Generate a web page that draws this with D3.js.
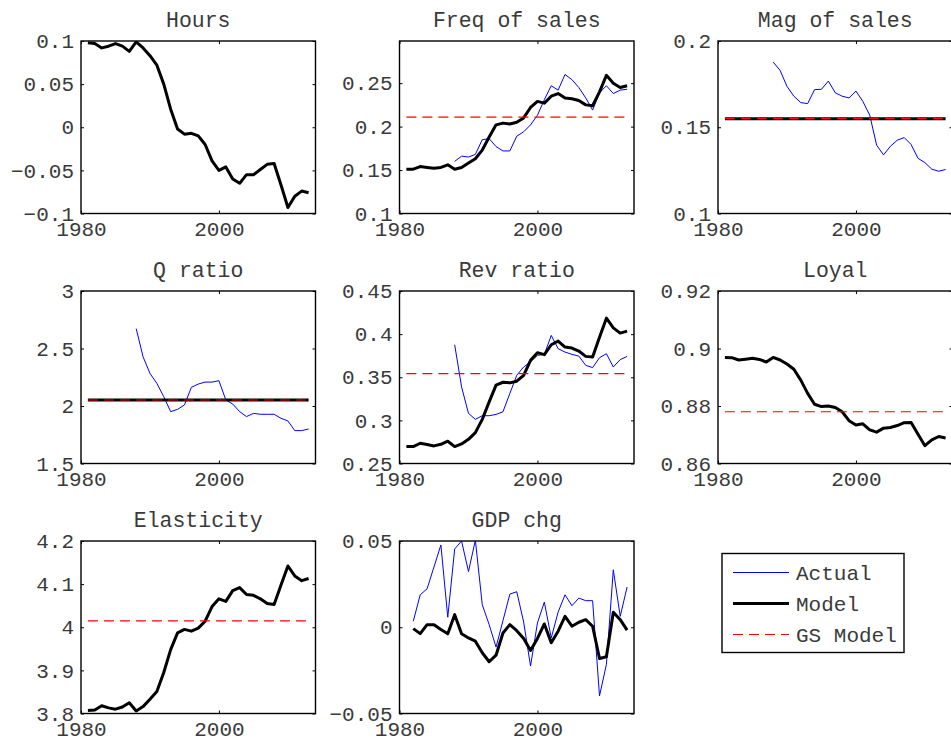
<!DOCTYPE html>
<html><head><meta charset="utf-8">
<script src="https://cdn.jsdelivr.net/npm/d3@7/dist/d3.min.js"></script>
<style>
html,body{margin:0;padding:0;background:#fff;}
svg text{font-family:"Liberation Mono","Courier New",monospace;}
</style></head><body>
<svg id="chart" width="951" height="749"></svg>
<script>
// ---------------- DATA ----------------
const years = [1981,1982,1983,1984,1985,1986,1987,1988,1989,1990,1991,1992,1993,1994,1995,1996,1997,1998,1999,2000,2001,2002,2003,2004,2005,2006,2007,2008,2009,2010,2011,2012,2013];
const xTicks = [1980, 2000];

const hoursModel = [0.098,0.097,0.092,0.094,0.097,0.094,0.088,0.099,0.092,0.083,0.072,0.050,0.021,-0.002,-0.008,-0.007,-0.010,-0.020,-0.039,-0.050,-0.046,-0.060,-0.065,-0.055,-0.055,-0.049,-0.043,-0.042,-0.067,-0.093,-0.080,-0.074,-0.076];

const freqModel = [0.151,0.151,0.154,0.153,0.152,0.153,0.156,0.151,0.153,0.158,0.163,0.173,0.188,0.202,0.204,0.203,0.205,0.210,0.222,0.229,0.227,0.235,0.238,0.233,0.232,0.230,0.225,0.224,0.240,0.259,0.250,0.245,0.247];
const freqActual = [null,null,null,null,null,null,null,0.160,0.166,0.165,0.168,0.185,0.186,0.177,0.172,0.172,0.189,0.194,0.202,0.213,0.231,0.247,0.242,0.260,0.254,0.245,0.233,0.219,0.239,0.247,0.238,0.242,0.243];
const freqGS = 0.211;

const magActual = [null,null,null,null,null,null,null,0.1878,0.183,0.1737,0.168,0.1643,0.1637,0.1718,0.172,0.1768,0.170,0.168,0.167,0.171,0.165,0.157,0.1396,0.134,0.139,0.1425,0.144,0.140,0.132,0.1295,0.1257,0.1245,0.1255];
const magModel = 0.155;
const magGS = 0.155;

const qActual = [null,null,null,null,null,null,null,2.673,2.428,2.283,2.197,2.081,1.951,1.971,2.009,2.162,2.191,2.208,2.208,2.22,2.052,2.017,1.951,1.908,1.936,1.928,1.928,1.928,1.893,1.870,1.786,1.786,1.80];
const qModel = 2.052;
const qGS = 2.052;

const revModel = [0.2696,0.2696,0.2735,0.272,0.2704,0.2723,0.2758,0.2696,0.2727,0.278,0.2858,0.3012,0.3215,0.3408,0.3442,0.3435,0.3454,0.3523,0.3696,0.3785,0.3762,0.3877,0.3919,0.385,0.3838,0.3804,0.3742,0.3735,0.3965,0.4185,0.4073,0.4012,0.4035];
const revActual = [null,null,null,null,null,null,null,0.3877,0.3388,0.3081,0.3012,0.3054,0.3054,0.3069,0.31,0.3312,0.3523,0.3619,0.3677,0.3754,0.3765,0.3985,0.3831,0.3792,0.3765,0.3746,0.3638,0.3612,0.3727,0.3773,0.3619,0.3704,0.3742];
const revGS = 0.3542;

const loyalModel = [0.8969,0.8968,0.896,0.8963,0.8966,0.8962,0.8953,0.8969,0.896,0.8946,0.8928,0.889,0.8844,0.8806,0.8798,0.88,0.8795,0.878,0.8749,0.8734,0.8738,0.8717,0.8709,0.8723,0.8725,0.8732,0.8742,0.8743,0.8702,0.8662,0.8682,0.8694,0.8689];
const loyalGS = 0.878;

const elasModel = [3.807,3.808,3.818,3.813,3.81,3.815,3.825,3.806,3.816,3.833,3.851,3.895,3.948,3.987,3.995,3.991,3.998,4.014,4.048,4.066,4.06,4.085,4.092,4.076,4.074,4.066,4.055,4.053,4.098,4.142,4.119,4.108,4.113];
const elasGS = 4.0146;

const gdpActual = [null,0.0035,0.0188,0.0223,0.035,0.0477,0.0058,0.0454,0.0500,0.0323,0.0505,0.0131,0.0015,-0.0115,0.0038,0.0192,0.0206,0.003,-0.0225,0.0025,0.0146,-0.0062,0.0088,0.0188,0.0125,0.0169,0.0154,0.0154,-0.0398,-0.0215,0.0333,0.0063,0.0233];
const gdpModel = [null,-0.0008,-0.0037,0.0015,0.0015,-0.0013,-0.0038,0.0073,-0.0038,-0.0062,-0.0081,-0.0148,-0.02,-0.0162,-0.0033,0.0015,-0.002,-0.0065,-0.0135,-0.0065,0.0019,-0.009,-0.0023,0.0063,0.0006,0.0029,0.0044,0.0006,-0.0181,-0.0171,0.0087,0.0044,-0.0017];

const titles = ["Hours","Freq of sales","Mag of sales","Q ratio","Rev ratio","Loyal","Elasticity","GDP chg"];
const ylims = [[-0.1,0.1],[0.1,0.2985],[0.1,0.2],[1.5,3],[0.25,0.45],[0.86,0.92],[3.8,4.2],[-0.05,0.05]];
const yTicks = [[-0.1,-0.05,0,0.05,0.1],[0.1,0.15,0.2,0.25],[0.1,0.15,0.2],[1.5,2,2.5,3],[0.25,0.3,0.35,0.4,0.45],[0.86,0.88,0.9,0.92],[3.8,3.9,4,4.1,4.2],[-0.05,0,0.05]];
const legendLabels = ["Actual","Model","GS Model"];

// panel table built from the arrays above
const panels = [
  {actual:null, model:hoursModel, modelLevel:null, gs:null},
  {actual:freqActual, model:freqModel, modelLevel:null, gs:freqGS},
  {actual:magActual, model:null, modelLevel:magModel, gs:magGS},
  {actual:qActual, model:null, modelLevel:qModel, gs:qGS},
  {actual:revActual, model:revModel, modelLevel:null, gs:revGS},
  {actual:null, model:loyalModel, modelLevel:null, gs:loyalGS},
  {actual:null, model:elasModel, modelLevel:null, gs:elasGS},
  {actual:gdpActual, model:gdpModel, modelLevel:null, gs:null}
].map((p,i)=>Object.assign(p,{title:titles[i], ylim:ylims[i], yt:yTicks[i]}));

// ---------------- STYLE / LAYOUT ----------------
const colLeft = [81, 399.5, 718], rowTop = [41, 291, 541];
const W = 234.5, H = 172.5;
const FS = 21, TFS = 21.5;
const TXT = "#3a3a3a";
const BLUE = "#0000ff", RED = "#ff0000", DASH = "10,6";

const svg = d3.select("#chart");
svg.append("rect").attr("width",951).attr("height",749).attr("fill","#fff");

const fmt = v => { let s = String(+v.toFixed(4)); return s.replace("-", "\u2212"); };

panels.forEach((p,i)=>{
  const c = i%3, r = Math.floor(i/3);
  const g = svg.append("g").attr("transform",`translate(${colLeft[c]},${rowTop[r]})`);
  const x = d3.scaleLinear().domain([1980,2014]).range([0,W]);
  const y = d3.scaleLinear().domain(p.ylim).range([H,0]);

  g.append("clipPath").attr("id","clip"+i).append("rect").attr("width",W).attr("height",H);
  const plot = g.append("g").attr("clip-path",`url(#clip${i})`);

  const line = d3.line().defined(d=>d[1]!=null).x(d=>x(d[0])).y(d=>y(d[1]));
  const yrFirst = years[0], yrLast = years[years.length-1];

  if (p.actual) {
    plot.append("path").datum(years.map((yr,k)=>[yr,p.actual[k]]))
      .attr("d",line).attr("fill","none").attr("stroke",BLUE).attr("stroke-width",1);
  }
  if (p.model) {
    plot.append("path").datum(years.map((yr,k)=>[yr,p.model[k]]))
      .attr("d",line).attr("fill","none").attr("stroke","#000").attr("stroke-width",3)
      .attr("stroke-linejoin","round");
  }
  if (p.modelLevel!=null) {
    plot.append("path").datum([[yrFirst,p.modelLevel],[yrLast,p.modelLevel]])
      .attr("d",line).attr("fill","none").attr("stroke","#000").attr("stroke-width",3);
  }
  if (p.gs!=null) {
    plot.append("path").datum([[yrFirst,p.gs],[yrLast,p.gs]])
      .attr("d",line).attr("fill","none").attr("stroke",RED).attr("stroke-width",1.2)
      .attr("stroke-dasharray",DASH);
  }

  // axes (ticks inside, MATLAB style)
  const ax = g.append("g").attr("transform",`translate(0,${H})`)
    .call(d3.axisBottom(x).tickValues(xTicks).tickFormat(d3.format("d")).tickSize(-3).tickPadding(8));
  const ay = g.append("g")
    .call(d3.axisLeft(y).tickValues(p.yt).tickFormat(fmt).tickSize(-3).tickPadding(7));
  const at = g.append("g").call(d3.axisTop(x).tickValues(xTicks).tickFormat("").tickSize(-3));
  const ar = g.append("g").attr("transform",`translate(${W},0)`)
    .call(d3.axisRight(y).tickValues(p.yt).tickFormat("").tickSize(-3));
  [ax,ay,at,ar].forEach(a=>{
    a.select(".domain").remove();
    a.selectAll(".tick line").attr("stroke","#000").attr("stroke-width",1);
    a.selectAll("text").style("font-size",FS+"px").attr("fill",TXT);
  });

  g.append("rect").attr("width",W).attr("height",H).attr("fill","none")
    .attr("stroke","#000").attr("stroke-width",1.4);

  g.append("text").attr("x",W/2).attr("y",-14.5).attr("text-anchor","middle")
    .attr("fill",TXT).style("font-size",TFS+"px").text(p.title);
});

// legend
const lg = svg.append("g").attr("transform","translate(722,553.5)");
lg.append("rect").attr("width",182).attr("height",99).attr("fill","#fff")
  .attr("stroke","#000").attr("stroke-width",1.4);
const lstyles = [{c:BLUE,w:1,d:null},{c:"#000",w:3,d:null},{c:RED,w:1.2,d:DASH}];
legendLabels.forEach((lab,k)=>{
  const yy = 19 + k*31;
  lg.append("line").attr("x1",11).attr("x2",67).attr("y1",yy).attr("y2",yy)
    .attr("stroke",lstyles[k].c).attr("stroke-width",lstyles[k].w)
    .attr("stroke-dasharray",lstyles[k].d);
  lg.append("text").attr("x",74).attr("y",yy).attr("dy","0.35em")
    .attr("fill",TXT).style("font-size",FS+"px").text(lab);
});
</script>
</body></html>
